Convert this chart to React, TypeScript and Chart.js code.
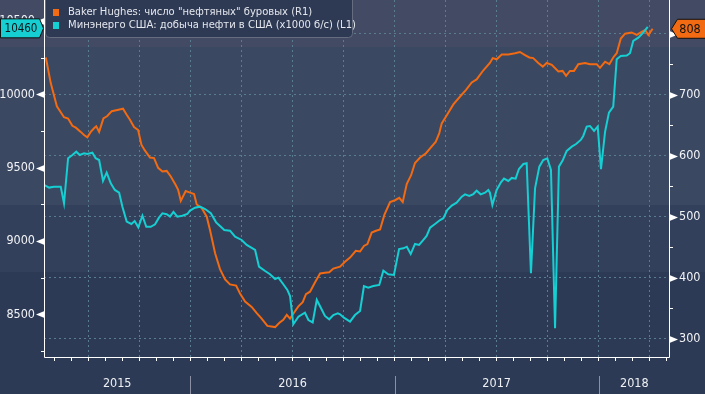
import React, { useEffect, useRef } from 'react';
import { Chart, registerables } from 'chart.js';

Chart.register(...registerables);

// ---- Data (x = fractional year) ----
const rigDates = [
  2015.292, 2015.316, 2015.346, 2015.381, 2015.401, 2015.422, 2015.439, 2015.463, 2015.479, 2015.495,
  2015.512, 2015.528, 2015.539, 2015.553, 2015.574, 2015.593, 2015.615, 2015.642, 2015.670, 2015.688,
  2015.704, 2015.724, 2015.744, 2015.760, 2015.776, 2015.802, 2015.822, 2015.842, 2015.863, 2015.884,
  2015.904, 2015.928, 2015.940, 2015.953, 2015.977, 2016.002, 2016.018, 2016.031, 2016.056, 2016.080,
  2016.096, 2016.121, 2016.145, 2016.170, 2016.194, 2016.224, 2016.243, 2016.268, 2016.300, 2016.325,
  2016.349, 2016.377, 2016.415, 2016.436, 2016.455, 2016.472, 2016.488, 2016.508, 2016.529, 2016.550,
  2016.566, 2016.586, 2016.610, 2016.635, 2016.659, 2016.680, 2016.700, 2016.733, 2016.757, 2016.782,
  2016.810, 2016.831, 2016.850, 2016.867, 2016.888, 2016.909, 2016.929, 2016.950, 2016.978, 2017.002,
  2017.023, 2017.040, 2017.060, 2017.081, 2017.100, 2017.125, 2017.154, 2017.174, 2017.202, 2017.219,
  2017.231, 2017.255, 2017.288, 2017.321, 2017.350, 2017.378, 2017.402, 2017.435, 2017.467, 2017.481,
  2017.500, 2017.525, 2017.557, 2017.590, 2017.614, 2017.639, 2017.660, 2017.679, 2017.704, 2017.726,
  2017.745, 2017.770, 2017.802, 2017.823, 2017.840, 2017.859, 2017.879, 2017.900, 2017.933, 2017.957,
  2017.990, 2018.006, 2018.031, 2018.052, 2018.071, 2018.088, 2018.108, 2018.129, 2018.161, 2018.186,
  2018.210, 2018.227, 2018.243, 2018.264,
];
const rigCounts = [
  761, 719, 681, 663, 661, 649, 646, 639, 634, 630,
  639, 645, 648, 639, 661, 665, 673, 675, 677, 667,
  659, 647, 642, 618, 609, 597, 596, 580, 574, 575,
  566, 552, 544, 526, 542, 539, 537, 520, 514, 500,
  478, 440, 414, 397, 389, 387, 374, 361, 352, 342,
  333, 321, 319, 326, 331, 339, 333, 343, 353, 360,
  373, 377, 392, 407, 408, 409, 415, 418, 426, 433,
  444, 443, 452, 455, 474, 477, 479, 503, 524, 527,
  531, 524, 554, 568, 588, 597, 604, 612, 623, 637,
  653, 666, 684, 697, 708, 720, 725, 740, 752, 760,
  758, 766, 766, 768, 770, 765, 761, 760, 752, 746,
  752, 749, 738, 739, 731, 739, 739, 750, 752, 750,
  750, 744, 754, 750, 761, 768, 792, 800, 802, 798,
  803, 806, 798, 808,
];

const prodDates = [
  2015.283, 2015.308, 2015.332, 2015.365, 2015.381, 2015.401, 2015.422, 2015.441, 2015.458, 2015.479,
  2015.495, 2015.520, 2015.536, 2015.553, 2015.572, 2015.590, 2015.610, 2015.630, 2015.651, 2015.667,
  2015.688, 2015.711, 2015.727, 2015.745, 2015.765, 2015.784, 2015.806, 2015.827, 2015.846, 2015.863,
  2015.884, 2015.900, 2015.917, 2015.936, 2015.961, 2015.985, 2015.998, 2016.023, 2016.047, 2016.072,
  2016.100, 2016.126, 2016.145, 2016.166, 2016.194, 2016.219, 2016.251, 2016.276, 2016.317, 2016.336,
  2016.366, 2016.390, 2016.415, 2016.431, 2016.455, 2016.475, 2016.488, 2016.504, 2016.529, 2016.561,
  2016.578, 2016.599, 2016.619, 2016.640, 2016.659, 2016.680, 2016.700, 2016.722, 2016.733, 2016.752,
  2016.782, 2016.806, 2016.831, 2016.850, 2016.871, 2016.896, 2016.925, 2016.945, 2016.969, 2016.997,
  2017.022, 2017.043, 2017.060, 2017.079, 2017.100, 2017.120, 2017.138, 2017.157, 2017.174, 2017.198,
  2017.223, 2017.239, 2017.258, 2017.280, 2017.304, 2017.329, 2017.345, 2017.366, 2017.386, 2017.402,
  2017.422, 2017.443, 2017.459, 2017.467, 2017.479, 2017.500, 2017.521, 2017.536, 2017.557, 2017.574,
  2017.593, 2017.609, 2017.631, 2017.647, 2017.668, 2017.688, 2017.709, 2017.728, 2017.748, 2017.766,
  2017.786, 2017.805, 2017.823, 2017.843, 2017.868, 2017.889, 2017.912, 2017.924, 2017.941, 2017.957,
  2017.977, 2017.995, 2018.011, 2018.031, 2018.050, 2018.071, 2018.088, 2018.108, 2018.137, 2018.153,
  2018.169, 2018.194, 2018.218, 2018.240,
];
const prodValues = [
  9382, 9364, 9370, 9370, 9257, 9564, 9586, 9609, 9586, 9598,
  9593, 9602, 9564, 9552, 9409, 9466, 9393, 9348, 9329, 9234,
  9132, 9116, 9136, 9093, 9172, 9097, 9097, 9114, 9159, 9189,
  9182, 9166, 9198, 9166, 9172, 9184, 9207, 9227, 9234, 9218,
  9189, 9127, 9102, 9075, 9070, 9029, 9007, 8973, 8939, 8825,
  8795, 8773, 8741, 8750, 8705, 8666, 8625, 8432, 8484, 8511,
  8461, 8445, 8598, 8541, 8489, 8466, 8495, 8507, 8500, 8477,
  8450, 8495, 8523, 8693, 8682, 8693, 8700, 8798, 8773, 8768,
  8945, 8950, 8961, 8911, 8980, 8973, 9002, 9034, 9091, 9116,
  9143, 9155, 9211, 9241, 9261, 9302, 9318, 9307, 9320, 9343,
  9318, 9329, 9348, 9329, 9245, 9348, 9400, 9425, 9409, 9430,
  9425, 9491, 9525, 9530, 8780, 9359, 9507, 9552, 9564, 9484,
  8405, 9507, 9548, 9614, 9643, 9661, 9689, 9716, 9780, 9784,
  9750, 9780, 9489, 9745, 9875, 9916, 10239, 10261, 10264, 10280,
  10364, 10386, 10420, 10460,
];

const seriesLabels = [
  'Baker Hughes: число "нефтяных" буровых (R1)',
  'Минэнерго США: добыча нефти в США (x1000 б/с) (L1)',
];
const leftTickValues = [8250, 8500, 8750, 9000, 9250, 9500, 9750, 10000, 10250, 10500];
const rightTickValues = [300, 350, 400, 450, 500, 550, 600, 650, 700, 750, 800];
const yearLabels = ['2015', '2016', '2017', '2018'];

const X_MIN = 2015.283;
const X_MAX = 2018.349;
const L_MIN = 8209;
const L_MAX = 10643;
const R_MIN = 270;
const R_MAX = 855.2;

const ORANGE = '#f26a12';
const CYAN = '#16cfd2';
const GRID = '#5a7c90';
const AXIS_FONT = '"DejaVu Sans Condensed", "Liberation Sans Narrow", sans-serif';
const LEGEND_FONT = '"DejaVu Sans", sans-serif';

const bgPlugin = {
  id: 'bgBands',
  beforeDraw(chart: any) {
    const { ctx, width, height } = chart;
    const bands: [number, number, string][] = [
      [0, 47, '#434a63'],
      [47, 205, '#3a4862'],
      [205, 272, '#33405b'],
      [272, height, '#2d3a55'],
    ];
    ctx.save();
    for (const [a, b, c] of bands) {
      ctx.fillStyle = c;
      ctx.fillRect(0, a, width, b - a);
    }
    ctx.restore();
  },
};

function labelBox(ctx: any, text: string, py: number, side: 'left' | 'right', fill: string, width: number) {
  ctx.save();
  ctx.beginPath();
  const h = 9.5;
  if (side === 'left') {
    ctx.moveTo(0.5, py - h);
    ctx.lineTo(39.5, py - h);
    ctx.lineTo(43.5, py);
    ctx.lineTo(39.5, py + h);
    ctx.lineTo(0.5, py + h);
  } else {
    ctx.moveTo(width + 2, py - h);
    ctx.lineTo(677.5, py - h);
    ctx.lineTo(671.5, py);
    ctx.lineTo(677.5, py + h);
    ctx.lineTo(width + 2, py + h);
  }
  ctx.closePath();
  ctx.fillStyle = fill;
  ctx.fill();
  ctx.strokeStyle = '#111';
  ctx.lineWidth = 1;
  ctx.stroke();
  ctx.fillStyle = '#101418';
  ctx.font = `${side === 'left' ? 11.5 : 12.5}px ${AXIS_FONT}`;
  ctx.textBaseline = 'middle';
  ctx.textAlign = 'center';
  ctx.fillText(text, side === 'left' ? 21 : 690, py + 0.5);
  ctx.restore();
}

const decoPlugin = {
  id: 'deco',
  afterDraw(chart: any) {
    const { ctx, chartArea, scales, width } = chart;
    const { left, right, top, bottom } = chartArea;
    const x = scales.x;
    const y = scales.y;
    const y1 = scales.y1;
    ctx.save();
    // axis lines
    ctx.strokeStyle = '#ffffff';
    ctx.lineWidth = 1;
    ctx.beginPath();
    ctx.moveTo(left + 0.5, top);
    ctx.lineTo(left + 0.5, bottom + 0.5);
    ctx.lineTo(right - 0.5, bottom + 0.5);
    ctx.lineTo(right - 0.5, top);
    ctx.stroke();
    ctx.fillStyle = '#ffffff';
    // left ticks
    for (const v of leftTickValues) {
      const py = Math.round(y.getPixelForValue(v)) + 0.5;
      if (v % 500 === 0) {
        ctx.beginPath();
        ctx.moveTo(left + 0.5, py - 3.5);
        ctx.lineTo(left - 8, py);
        ctx.lineTo(left + 0.5, py + 3.5);
        ctx.closePath();
        ctx.fill();
      } else {
        ctx.beginPath();
        ctx.moveTo(left - 3, py);
        ctx.lineTo(left + 0.5, py);
        ctx.stroke();
      }
    }
    // right ticks
    for (const v of rightTickValues) {
      const py = Math.round(y1.getPixelForValue(v)) + 0.5;
      if (v % 100 === 0) {
        ctx.beginPath();
        ctx.moveTo(right - 0.5, py - 3.5);
        ctx.lineTo(right + 8, py);
        ctx.lineTo(right - 0.5, py + 3.5);
        ctx.closePath();
        ctx.fill();
      } else {
        ctx.beginPath();
        ctx.moveTo(right - 0.5, py);
        ctx.lineTo(right + 3, py);
        ctx.stroke();
      }
    }
    // year band
    ctx.font = `12.5px ${AXIS_FONT}`;
    ctx.textAlign = 'center';
    ctx.textBaseline = 'middle';
    yearLabels.forEach((yl) => {
      const yr = Number(yl);
      const a = Math.max(left, x.getPixelForValue(yr));
      const b = Math.min(right, x.getPixelForValue(yr + 1));
      ctx.fillStyle = '#eef0f4';
      ctx.fillText(yl, (a + b) / 2, 384);
      if (yr > Number(yearLabels[0])) {
        const sx = Math.round(x.getPixelForValue(yr)) + 0.5;
        ctx.strokeStyle = '#8a91a2';
        ctx.beginPath();
        ctx.moveTo(sx, 376);
        ctx.lineTo(sx, 394);
        ctx.stroke();
      }
    });
    // legend
    ctx.beginPath();
    const lx = 45.5, ly = -4.5, lw = 307, lh = 42, r = 4;
    ctx.moveTo(lx + r, ly);
    ctx.lineTo(lx + lw - r, ly);
    ctx.quadraticCurveTo(lx + lw, ly, lx + lw, ly + r);
    ctx.lineTo(lx + lw, ly + lh - r);
    ctx.quadraticCurveTo(lx + lw, ly + lh, lx + lw - r, ly + lh);
    ctx.lineTo(lx + r, ly + lh);
    ctx.quadraticCurveTo(lx, ly + lh, lx, ly + lh - r);
    ctx.lineTo(lx, ly + r);
    ctx.quadraticCurveTo(lx, ly, lx + r, ly);
    ctx.closePath();
    ctx.fillStyle = '#2e3953';
    ctx.fill();
    ctx.strokeStyle = '#666d80';
    ctx.stroke();
    const colors = [ORANGE, CYAN];
    ctx.font = `10px ${LEGEND_FONT}`;
    ctx.textAlign = 'left';
    ctx.textBaseline = 'middle';
    seriesLabels.forEach((t, i) => {
      const cy = 12.5 + i * 13;
      ctx.fillStyle = colors[i];
      ctx.fillRect(53, cy - 3.5, 6, 7);
      ctx.fillStyle = '#e4e7ee';
      ctx.fillText(t, 68, cy);
    });
    ctx.restore();
    // value labels
    const lastProd = prodValues[prodValues.length - 1];
    const lastRig = rigCounts[rigCounts.length - 1];
    labelBox(ctx, String(lastProd), y.getPixelForValue(lastProd) + 1.5, 'left', CYAN, width);
    labelBox(ctx, String(lastRig), y1.getPixelForValue(lastRig), 'right', ORANGE, width);
  },
};

export default function App() {
  const ref = useRef<HTMLCanvasElement | null>(null);
  useEffect(() => {
    if (!ref.current) return;
    const chart = new Chart(ref.current, {
      type: 'line',
      data: {
        datasets: [
          {
            label: seriesLabels[1],
            data: prodDates.map((d, i) => ({ x: d, y: prodValues[i] })),
            yAxisID: 'y',
            borderColor: CYAN,
            borderWidth: 2,
            pointRadius: 0,
            tension: 0,
          },
          {
            label: seriesLabels[0],
            data: rigDates.map((d, i) => ({ x: d, y: rigCounts[i] })),
            yAxisID: 'y1',
            borderColor: ORANGE,
            borderWidth: 2,
            pointRadius: 0,
            tension: 0,
          },
        ],
      },
      options: {
        animation: false,
        responsive: false,
        devicePixelRatio: 1,
        maintainAspectRatio: false,
        layout: { padding: 0 },
        plugins: {
          legend: { display: false },
          tooltip: { enabled: false },
          title: { display: false },
        },
        scales: {
          x: {
            type: 'linear',
            min: X_MIN,
            max: X_MAX,
            afterBuildTicks: (s: any) => {
              const t: any[] = [];
              for (let yr = 2015; yr <= 2018; yr++) {
                for (let m = 0; m < 12; m++) {
                  const v = yr + m / 12;
                  if (v >= X_MIN && v <= X_MAX) t.push({ value: v });
                }
              }
              s.ticks = t;
            },
            ticks: { display: false, autoSkip: false },
            grid: {
              color: (c: any) => {
                const v = c.tick ? c.tick.value : 0;
                const m = Math.round((v - 2015) * 12);
                return m % 3 === 0 ? GRID : 'transparent';
              },
              tickColor: '#ffffff',
              tickLength: 4,
              drawTicks: true,
              lineWidth: 1,
            },
            border: { display: false, dash: [2, 3] },
            afterFit: (s: any) => {
              s.height = 37;
              s.paddingLeft = 0;
              s.paddingRight = 0;
            },
          },
          y: {
            type: 'linear',
            position: 'left',
            min: L_MIN,
            max: L_MAX,
            afterBuildTicks: (s: any) => {
              s.ticks = leftTickValues.map((v) => ({ value: v }));
            },
            ticks: {
              autoSkip: false,
              padding: 9,
              color: '#f2f3f6',
              font: { family: AXIS_FONT, size: 12.5 },
              callback: (v: any) => (Number(v) % 500 === 0 ? String(v) : ''),
            },
            grid: { display: false, drawTicks: false },
            border: { display: false },
            afterFit: (s: any) => {
              s.width = 44;
              s.paddingTop = 0;
              s.paddingBottom = 0;
            },
          },
          y1: {
            type: 'linear',
            position: 'right',
            min: R_MIN,
            max: R_MAX,
            afterBuildTicks: (s: any) => {
              s.ticks = rightTickValues.map((v) => ({ value: v }));
            },
            ticks: {
              autoSkip: false,
              padding: 9,
              color: '#f2f3f6',
              font: { family: AXIS_FONT, size: 12.5 },
              callback: (v: any) => (Number(v) % 100 === 0 ? String(v) : ''),
            },
            grid: {
              drawTicks: false,
              color: (c: any) => {
                const v = c.tick ? c.tick.value : 0;
                return v % 100 === 0 ? GRID : 'transparent';
              },
              lineWidth: 1,
            },
            border: { display: false, dash: [2, 3] },
            afterFit: (s: any) => {
              s.width = 35;
              s.paddingTop = 0;
              s.paddingBottom = 0;
            },
          },
        },
      } as any,
      plugins: [bgPlugin, decoPlugin],
    });
    return () => chart.destroy();
  }, []);

  return (
    <div style={{ position: 'fixed', left: 0, top: 0, width: 705, height: 394, background: '#2d3a55' }}>
      <canvas ref={ref} width={705} height={394} style={{ display: 'block', width: 705, height: 394 }} />
    </div>
  );
}
